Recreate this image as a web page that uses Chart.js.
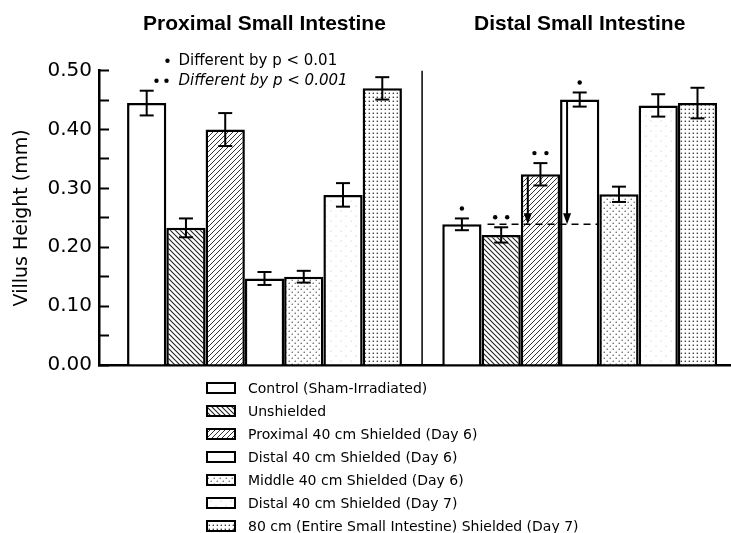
<!DOCTYPE html>
<html>
<head>
<meta charset="utf-8">
<script src="https://cdn.jsdelivr.net/npm/chart.js@4.4.0/dist/chart.umd.min.js"></script>
<style>
  html, body { margin: 0; padding: 0; background: #fff; }
  #wrap { width: 731px; height: 533px; }
</style>
</head>
<body>
<div id="wrap"><canvas id="villusChart"></canvas></div>
<script>
// Villus height by segment, one bar per treatment group

const groups = ['Proximal Small Intestine', 'Distal Small Intestine'];
const treatments = [
    'Control (Sham-Irradiated)',
    'Unshielded',
    'Proximal 40 cm Shielded (Day 6)',
    'Distal 40 cm Shielded (Day 6)',
    'Middle 40 cm Shielded (Day 6)',
    'Distal 40 cm Shielded (Day 7)',
    '80 cm (Entire Small Intestine) Shielded (Day 7)'
];

const proximal    = [0.445, 0.233, 0.400, 0.147, 0.150, 0.289, 0.470];
const proximalErr = [0.021, 0.016, 0.028, 0.011, 0.010, 0.020, 0.019];
const distal      = [0.239, 0.221, 0.324, 0.451, 0.290, 0.441, 0.445];
const distalErr   = [0.010, 0.013, 0.019, 0.012, 0.013, 0.019, 0.026];

// number of significance dots above each bar (1: p < 0.01, 2: p < 0.001)
const proximalSig = [0, 0, 0, 0, 0, 0, 0];
const distalSig   = [1, 2, 2, 1, 0, 0, 0];

// distal bars that get an arrow down to the control level
const distalArrows = [2, 3];

const yTicks = [0, 0.1, 0.2, 0.3, 0.4, 0.5];

const groupValues = [proximal, distal];
const groupErrors = [proximalErr, distalErr];
const groupSig = [proximalSig, distalSig];

// fill patterns
function tileCanvas(size) {
    const c = document.createElement('canvas');
    c.width = c.height = size;
    const g = c.getContext('2d');
    g.fillStyle = '#fff';
    g.fillRect(0, 0, size, size);
    return [c, g];
}

const patCtx = document.createElement('canvas').getContext('2d');

function hatch(dir, gap, lw, color) {
    const [c, g] = tileCanvas(gap);
    g.strokeStyle = color;
    g.lineWidth = lw;
    g.beginPath();
    if (dir > 0) {
        g.moveTo(0, gap); g.lineTo(gap, 0);
        g.moveTo(-1, 1); g.lineTo(1, -1);
        g.moveTo(gap - 1, gap + 1); g.lineTo(gap + 1, gap - 1);
    } else {
        g.moveTo(0, 0); g.lineTo(gap, gap);
        g.moveTo(gap - 1, -1); g.lineTo(gap + 1, 1);
        g.moveTo(-1, gap - 1); g.lineTo(1, gap + 1);
    }
    g.stroke();
    return patCtx.createPattern(c, 'repeat');
}

function dots(step, r, color, stagger) {
    const size = step * 2;
    const [c, g] = tileCanvas(size);
    g.fillStyle = color;
    const pts = stagger
        ? [[0.5, 0.5], [step + 0.5, step + 0.5]]
        : [[0.5, 0.5], [step + 0.5, 0.5], [0.5, step + 0.5], [step + 0.5, step + 0.5]];
    pts.forEach(([px, py]) => {
        g.beginPath();
        g.arc(px + r, py + r, r, 0, Math.PI * 2);
        g.fill();
    });
    return patCtx.createPattern(c, 'repeat');
}

const fills = [
    '#ffffff',
    hatch(-1, 5, 1.1, '#222'),
    hatch(1, 5, 1.0, '#333'),
    '#ffffff',
    dots(3, 0.7, '#444', true),
    dots(5, 0.5, '#aaa', true),
    dots(4, 0.8, '#222', false)
];

const datasets = treatments.map((name, i) => ({
    label: name,
    data: groups.map((g, k) => ({ x: k, y: groupValues[k][i] })),
    backgroundColor: fills[i],
    borderColor: '#000',
    borderWidth: 2.5,
    barPercentage: 1.0,
    categoryPercentage: 0.872
}));

function line(ctx, x1, y1, x2, y2) {
    ctx.beginPath();
    ctx.moveTo(x1, y1);
    ctx.lineTo(x2, y2);
    ctx.stroke();
}

function dot(ctx, cx, cy, r) {
    ctx.beginPath();
    ctx.arc(cx, cy, r, 0, Math.PI * 2);
    ctx.fill();
}

// error bars, significance dots, divider, arrows and notes
const overlay = {
    id: 'overlay',
    afterDatasetsDraw(chart) {
        const { ctx, chartArea, scales: { x, y } } = chart;
        ctx.save();
        ctx.strokeStyle = '#000';
        ctx.fillStyle = '#000';

        // divider between the two segments
        ctx.lineWidth = 1.5;
        const xd = x.getPixelForValue(0.5);
        line(ctx, xd, chartArea.top, xd, chartArea.bottom);

        chart.data.datasets.forEach((ds, i) => {
            const meta = chart.getDatasetMeta(i);
            meta.data.forEach((bar, k) => {
                const v = groupValues[k][i];
                const e = groupErrors[k][i];
                const yt = y.getPixelForValue(v + e);
                const yb = y.getPixelForValue(v - e);
                ctx.lineWidth = 2;
                line(ctx, bar.x, yt, bar.x, yb);
                line(ctx, bar.x - 7, yt, bar.x + 7, yt);
                line(ctx, bar.x - 7, yb, bar.x + 7, yb);

                const n = groupSig[k][i];
                for (let s = 0; s < n; s++) {
                    const off = (s - (n - 1) / 2) * 12;
                    dot(ctx, bar.x + off, yt - 10, 2.2);
                }
            });
        });

        // dashed control level across the distal bars
        const ctrlY = y.getPixelForValue(distal[0]);
        const unsh = chart.getDatasetMeta(1).data[1];
        const last = chart.getDatasetMeta(distalArrows[distalArrows.length - 1]).data[1];
        ctx.lineWidth = 1.5;
        ctx.setLineDash([7, 5]);
        line(ctx, unsh.x - unsh.width / 2 + 6, ctrlY, last.x + last.width / 2 - 2, ctrlY);
        ctx.setLineDash([]);

        distalArrows.forEach(i => {
            const bar = chart.getDatasetMeta(i).data[1];
            const ax = bar.x - bar.width / 2 + 7;
            ctx.lineWidth = 2;
            line(ctx, ax, bar.y + 2, ax, ctrlY - 8);
            ctx.beginPath();
            ctx.moveTo(ax - 4, ctrlY - 11);
            ctx.lineTo(ax + 4, ctrlY - 11);
            ctx.lineTo(ax, ctrlY);
            ctx.closePath();
            ctx.fill();
        });

        // significance notes
        const x0 = x.getPixelForValue(0);
        const top = chartArea.top;
        ctx.font = '15px "DejaVu Sans"';
        ctx.textBaseline = 'alphabetic';
        ctx.textAlign = 'left';
        dot(ctx, x0 - 97, top - 10, 2.2);
        ctx.fillText('Different by p < 0.01', x0 - 86, top - 5.5);
        dot(ctx, x0 - 108, top + 10, 2.2);
        dot(ctx, x0 - 98, top + 10, 2.2);
        ctx.font = 'italic 15px "DejaVu Sans"';
        ctx.fillText('Different by p < 0.001', x0 - 86, top + 14.5);
        ctx.restore();
    }
};

// legend: one entry per line under the plot
const stackedLegend = {
    id: 'stackedLegend',
    afterDraw(chart) {
        const { ctx, chartArea } = chart;
        const left = chartArea.left + 108;
        ctx.save();
        ctx.font = '14px "DejaVu Sans"';
        ctx.textBaseline = 'middle';
        ctx.textAlign = 'left';
        chart.data.datasets.forEach((ds, i) => {
            const cy = chartArea.bottom + 23 + i * 23;
            ctx.fillStyle = ds.backgroundColor;
            ctx.fillRect(left, cy - 5, 28, 10);
            ctx.strokeStyle = '#000';
            ctx.lineWidth = 2;
            ctx.strokeRect(left, cy - 5, 28, 10);
            ctx.fillStyle = '#000';
            ctx.fillText(ds.label, left + 41, cy + 1);
        });
        ctx.restore();
    }
};

Chart.defaults.font.family = '"DejaVu Sans"';
Chart.defaults.color = '#000';

new Chart(document.getElementById('villusChart'), {
    type: 'bar',
    data: { datasets },
    options: {
        responsive: true,
        maintainAspectRatio: false,
        animation: false,
        layout: { padding: { top: 0, left: 0, right: 0, bottom: 168 } },
        plugins: {
            legend: { display: false },
            tooltip: { enabled: false }
        },
        scales: {
            x: {
                type: 'linear',
                position: 'bottom',
                offset: false,
                min: -0.525,
                max: 1.48,
                afterBuildTicks: s => { s.ticks = groups.map((g, k) => ({ value: k })); },
                afterFit: s => { s.height = 0; },
                ticks: { display: false },
                grid: { display: false, offset: false },
                border: { display: true, color: '#000', width: 2.5 }
            },
            x2: {
                type: 'linear',
                position: 'top',
                offset: false,
                min: -0.525,
                max: 1.48,
                afterBuildTicks: s => { s.ticks = groups.map((g, k) => ({ value: k })); },
                afterFit: s => { s.height = 70.7; },
                ticks: {
                    padding: 34,
                    maxRotation: 0,
                    autoSkip: false,
                    font: { family: '"Liberation Sans"', size: 21, weight: 'bold' },
                    callback: v => groups[Math.round(v)]
                },
                grid: { display: false, drawTicks: false, offset: false },
                border: { display: false }
            },
            y: {
                min: 0,
                max: 0.5,
                afterFit: s => { s.width = 99; },
                afterBuildTicks: s => {
                    const t = [];
                    for (let k = 0; k < yTicks.length; k++) {
                        t.push({ value: yTicks[k] });
                        if (k < yTicks.length - 1) t.push({ value: (yTicks[k] + yTicks[k + 1]) / 2 });
                    }
                    s.ticks = t;
                },
                ticks: {
                    padding: 17,
                    font: { size: 20 },
                    callback: v => yTicks.some(t => Math.abs(t - v) < 1e-9) ? v.toFixed(2) : ''
                },
                grid: {
                    drawOnChartArea: false,
                    tickLength: -10,
                    tickWidth: 2,
                    tickColor: '#000'
                },
                border: { display: true, color: '#000', width: 2.5 },
                title: {
                    display: true,
                    text: 'Villus Height (mm)',
                    font: { size: 19 },
                    padding: { top: 11, bottom: 0 }
                }
            }
        }
    },
    plugins: [overlay, stackedLegend]
});
</script>
</body>
</html>
